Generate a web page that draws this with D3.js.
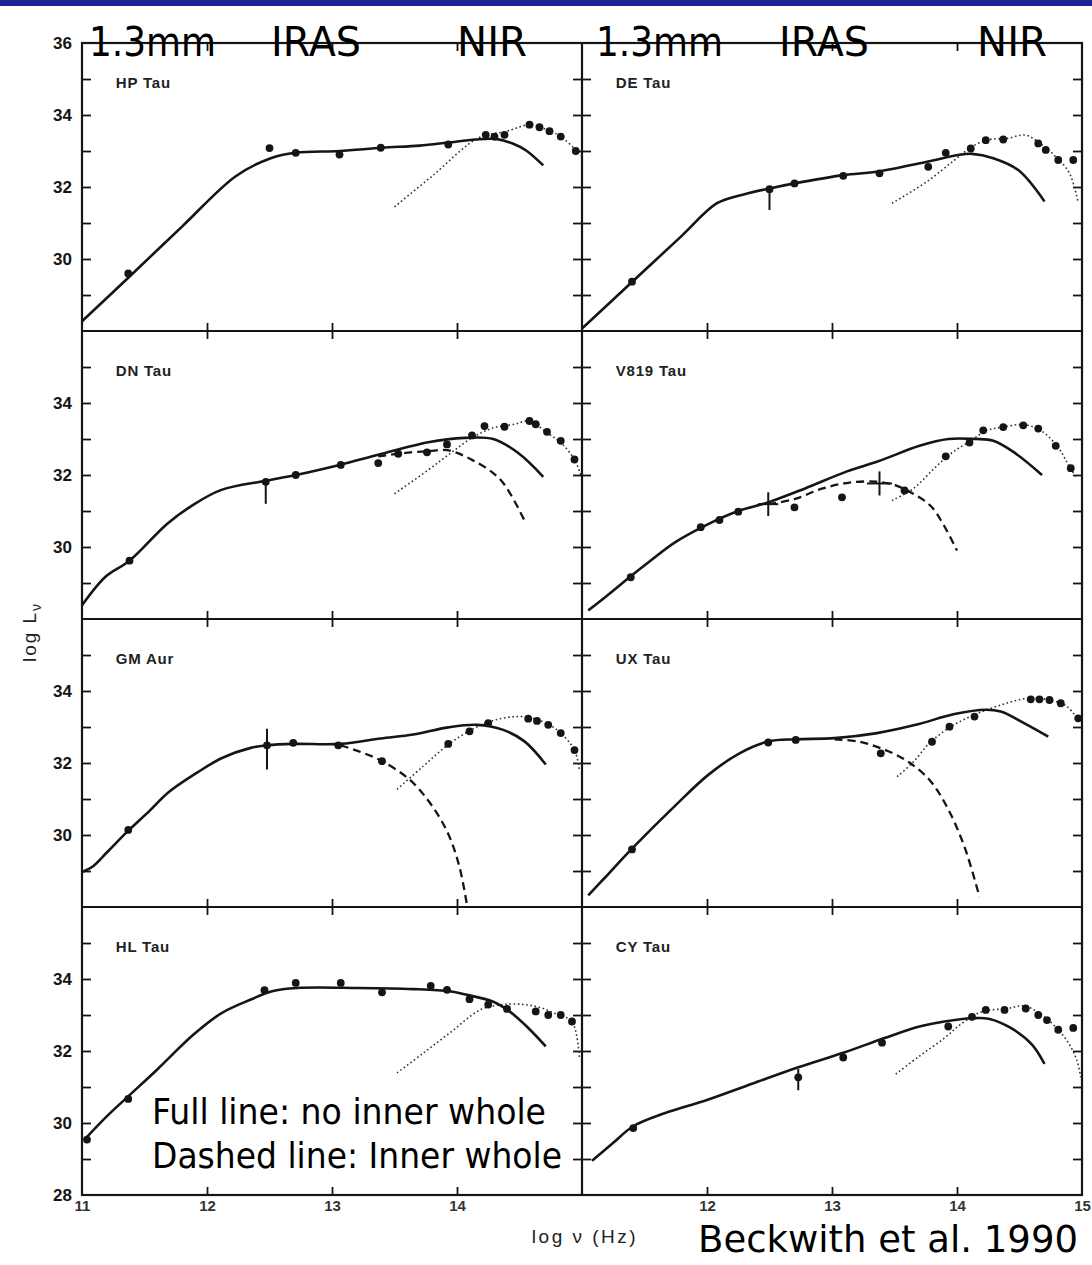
<!DOCTYPE html>
<html><head><meta charset="utf-8">
<script src="https://cdn.jsdelivr.net/npm/d3@7"></script>
<style>body{margin:0;background:#fff;} svg{display:block;}</style>
</head><body>
<script>
// ---------------- DATA (log nu [Hz], log L_nu) ----------------
const panelNames = ["HP Tau", "DE Tau", "DN Tau", "V819 Tau", "GM Aur", "UX Tau", "HL Tau", "CY Tau"];
const yTickLabelsTop = [36, 34, 32, 30];
const yTickLabelsMid = [34, 32, 30];
const yTickLabelsBottom = [34, 32, 30, 28];
const xTickLabelsLeft = [11, 12, 13, 14];
const xTickLabelsRight = [12, 13, 14, 15];
const bandLabels = ["1.3mm", "IRAS", "NIR"];

// HP Tau
const hpTauModel = [[11.0,28.27],[11.37,29.48],[11.8,30.9],[12.23,32.3],[12.51,32.8],[12.71,32.95],[13.06,33.0],[13.4,33.09],[13.7,33.15],[13.92,33.23],[14.15,33.32],[14.32,33.33],[14.45,33.2],[14.55,33.02],[14.69,32.6]];
const hpTauStar = [[13.5,31.45],[13.8,32.3],[14.17,33.36],[14.4,33.55],[14.58,33.73],[14.7,33.62],[14.83,33.4],[14.95,33.03],[15.0,32.85]];
const hpTauData = [[11.37,29.6],[12.5,33.08],[12.71,32.95],[13.06,32.9],[13.39,33.09],[13.93,33.18],[14.23,33.45],[14.3,33.4],[14.38,33.45],[14.58,33.73],[14.66,33.66],[14.74,33.55],[14.83,33.4],[14.95,33.0]];
const hpTauErr = [];
// DE Tau
const deTauModel = [[11.0,28.07],[11.4,29.36],[11.8,30.65],[12.08,31.55],[12.3,31.8],[12.5,31.96],[12.7,32.1],[13.09,32.33],[13.37,32.43],[13.76,32.7],[14.01,32.89],[14.12,32.92],[14.29,32.8],[14.49,32.47],[14.7,31.6]];
const deTauStar = [[13.48,31.55],[13.76,32.15],[13.98,32.75],[14.12,33.12],[14.26,33.32],[14.4,33.35],[14.55,33.44],[14.68,33.17],[14.79,32.84],[14.9,32.38],[14.97,31.55]];
const deTauData = [[11.4,29.37],[12.5,31.94],[12.7,32.1],[13.09,32.31],[13.38,32.38],[13.77,32.56],[13.91,32.95],[14.11,33.07],[14.23,33.3],[14.37,33.32],[14.65,33.21],[14.71,33.03],[14.81,32.75],[14.93,32.75]];
const deTauErr = [[12.5,31.36,31.94]];
// DN Tau
const dnTauModel = [[11.0,28.38],[11.19,29.18],[11.38,29.62],[11.68,30.64],[11.88,31.15],[12.11,31.58],[12.47,31.84],[12.71,32.0],[13.06,32.28],[13.37,32.56],[13.77,32.91],[14.06,33.03],[14.29,33.0],[14.49,32.61],[14.69,31.95]];
const dnTauHole = [[13.37,32.52],[13.63,32.63],[13.77,32.66],[13.92,32.69],[14.12,32.42],[14.35,31.86],[14.55,30.66]];
const dnTauStar = [[13.5,31.48],[13.77,32.14],[13.95,32.61],[14.12,33.03],[14.29,33.31],[14.46,33.41],[14.58,33.5],[14.72,33.17],[14.83,32.9],[14.94,32.43],[14.99,32.0]];
const dnTauData = [[11.38,29.62],[12.47,31.81],[12.71,32.0],[13.07,32.28],[13.37,32.33],[13.53,32.59],[13.76,32.63],[13.92,32.85],[14.12,33.1],[14.22,33.36],[14.38,33.34],[14.58,33.5],[14.63,33.41],[14.72,33.2],[14.83,32.95],[14.94,32.43]];
const dnTauErr = [[12.47,31.2,31.85]];
// V819 Tau
const v819TauModel = [[11.05,28.24],[11.19,28.62],[11.39,29.19],[11.53,29.57],[11.75,30.14],[12.03,30.67],[12.25,31.0],[12.49,31.24],[12.78,31.62],[13.12,32.1],[13.37,32.38],[13.7,32.81],[13.93,33.0],[14.15,33.0],[14.29,32.95],[14.46,32.62],[14.68,32.0]];
const v819TauHole = [[12.49,31.19],[12.7,31.33],[12.92,31.62],[13.14,31.79],[13.37,31.81],[13.51,31.71],[13.65,31.48],[13.79,31.14],[13.9,30.57],[14.0,29.9]];
const v819TauStar = [[13.48,31.29],[13.65,31.62],[13.82,32.19],[13.96,32.62],[14.11,32.95],[14.24,33.24],[14.37,33.33],[14.53,33.4],[14.67,33.24],[14.81,32.76],[14.89,32.29],[14.96,31.9]];
const v819TauData = [[11.39,29.16],[11.95,30.55],[12.1,30.75],[12.25,30.98],[12.7,31.1],[13.08,31.38],[13.58,31.57],[13.91,32.52],[14.1,32.9],[14.21,33.24],[14.37,33.33],[14.53,33.38],[14.65,33.29],[14.79,32.81],[14.91,32.19]];
const v819TauErr = [[12.49,30.86,31.52,12.41,12.57],[13.38,31.43,32.1,13.28,13.48]];
// GM Aur
const gmAurModel = [[11.0,28.97],[11.08,29.11],[11.2,29.52],[11.37,30.12],[11.54,30.67],[11.69,31.18],[11.92,31.73],[12.12,32.14],[12.35,32.42],[12.48,32.49],[12.69,32.53],[13.07,32.53],[13.39,32.68],[13.65,32.79],[13.93,32.99],[14.16,33.06],[14.37,32.92],[14.54,32.6],[14.71,31.96]];
const gmAurHole = [[13.07,32.49],[13.21,32.33],[13.39,32.07],[13.62,31.54],[13.79,30.86],[13.93,30.03],[14.02,29.11],[14.08,28.05]];
const gmAurStar = [[13.52,31.27],[13.73,31.91],[13.93,32.51],[14.14,32.97],[14.31,33.2],[14.48,33.29],[14.6,33.25],[14.74,33.06],[14.83,32.83],[14.94,32.36],[14.98,31.8]];
const gmAurData = [[11.37,30.14],[12.48,32.49],[12.69,32.56],[13.05,32.49],[13.4,32.05],[13.93,32.53],[14.1,32.88],[14.25,33.11],[14.57,33.23],[14.64,33.17],[14.73,33.06],[14.83,32.83],[14.94,32.36]];
const gmAurErr = [[12.48,31.82,32.95]];
// UX Tau
const uxTauModel = [[11.05,28.32],[11.19,28.84],[11.4,29.62],[11.75,30.83],[12.01,31.67],[12.26,32.27],[12.49,32.6],[12.71,32.66],[13.02,32.69],[13.36,32.83],[13.67,33.06],[13.98,33.36],[14.23,33.48],[14.35,33.43],[14.54,33.1],[14.73,32.73]];
const uxTauHole = [[13.02,32.66],[13.22,32.59],[13.39,32.41],[13.59,32.08],[13.78,31.53],[13.92,30.78],[14.06,29.67],[14.18,28.28]];
const uxTauStar = [[13.52,31.62],[13.64,31.99],[13.78,32.55],[13.95,33.01],[14.14,33.34],[14.35,33.61],[14.57,33.8],[14.74,33.75],[14.88,33.57],[14.99,33.1]];
const uxTauData = [[11.4,29.6],[12.49,32.57],[12.71,32.64],[13.39,32.27],[13.8,32.59],[13.94,33.01],[14.14,33.29],[14.59,33.77],[14.66,33.77],[14.74,33.75],[14.83,33.66],[14.97,33.24]];
const uxTauErr = [];
// HL Tau
const hlTauModel = [[11.02,29.54],[11.2,30.19],[11.37,30.74],[11.6,31.48],[11.89,32.45],[12.12,33.06],[12.35,33.43],[12.52,33.66],[12.72,33.75],[13.21,33.75],[13.65,33.72],[13.94,33.66],[14.08,33.56],[14.28,33.38],[14.42,33.1],[14.57,32.64],[14.71,32.13]];
const hlTauStar = [[13.52,31.39],[13.73,31.94],[13.96,32.55],[14.19,33.15],[14.37,33.29],[14.54,33.29],[14.68,33.19],[14.81,33.0],[14.92,32.82],[14.98,31.8]];
const hlTauData = [[11.04,29.54],[11.37,30.67],[12.46,33.69],[12.71,33.89],[13.07,33.89],[13.4,33.63],[13.79,33.81],[13.92,33.7],[14.1,33.44],[14.25,33.29],[14.4,33.17],[14.63,33.1],[14.73,33.0],[14.83,33.0],[14.92,32.82]];
const hlTauErr = [];
// CY Tau
const cyTauModel = [[11.08,28.95],[11.25,29.45],[11.41,29.91],[11.66,30.27],[12.0,30.64],[12.36,31.09],[12.73,31.55],[13.09,31.95],[13.42,32.36],[13.7,32.68],[13.9,32.82],[14.12,32.91],[14.26,32.89],[14.43,32.64],[14.6,32.18],[14.7,31.64]];
const cyTauStar = [[13.51,31.36],[13.7,31.86],[13.9,32.36],[14.04,32.77],[14.2,33.09],[14.4,33.18],[14.54,33.25],[14.68,33.0],[14.81,32.59],[14.9,32.18],[14.96,31.73],[14.99,31.27]];
const cyTauData = [[11.41,29.86],[12.73,31.27],[13.09,31.82],[13.4,32.23],[13.93,32.68],[14.12,32.95],[14.23,33.14],[14.38,33.14],[14.55,33.18],[14.65,33.0],[14.72,32.86],[14.81,32.59],[14.93,32.64]];
const cyTauErr = [[12.73,30.91,31.5]];

// table for drawing (built from the arrays above)
const panels = [
  {name:panelNames[0], col:0,row:0, model:hpTauModel, hole:null, star:hpTauStar, data:hpTauData, err:hpTauErr},
  {name:panelNames[1], col:1,row:0, model:deTauModel, hole:null, star:deTauStar, data:deTauData, err:deTauErr},
  {name:panelNames[2], col:0,row:1, model:dnTauModel, hole:dnTauHole, star:dnTauStar, data:dnTauData, err:dnTauErr},
  {name:panelNames[3], col:1,row:1, model:v819TauModel, hole:v819TauHole, star:v819TauStar, data:v819TauData, err:v819TauErr},
  {name:panelNames[4], col:0,row:2, model:gmAurModel, hole:gmAurHole, star:gmAurStar, data:gmAurData, err:gmAurErr},
  {name:panelNames[5], col:1,row:2, model:uxTauModel, hole:uxTauHole, star:uxTauStar, data:uxTauData, err:uxTauErr},
  {name:panelNames[6], col:0,row:3, model:hlTauModel, hole:null, star:hlTauStar, data:hlTauData, err:hlTauErr},
  {name:panelNames[7], col:1,row:3, model:cyTauModel, hole:null, star:cyTauStar, data:cyTauData, err:cyTauErr}
];

// ---------------- LAYOUT ----------------
const W = 1092, H = 1265;
const colX = [82, 582], panelW = 500, top0 = 43, panelH = 288;
const ink = "#151515";
const svg = d3.select("body").append("svg").attr("width", W).attr("height", H)
  .style("font-family", "'Liberation Sans', Arial, sans-serif");
svg.append("rect").attr("width", W).attr("height", H).attr("fill", "#fff");

const xS = colX.map(x0 => d3.scaleLinear().domain([11, 15]).range([x0, x0 + panelW]));
const yS = [0,1,2,3].map(i => d3.scaleLinear().domain([28, 36]).range([top0 + (i+1)*panelH, top0 + i*panelH]));
const bottom = top0 + 4*panelH;

// frame
const frame = svg.append("g").attr("stroke", ink).attr("stroke-width", 2.2).attr("fill", "none");
frame.append("rect").attr("x", colX[0]).attr("y", top0).attr("width", 2*panelW).attr("height", 4*panelH);
frame.append("line").attr("x1", colX[1]).attr("x2", colX[1]).attr("y1", top0).attr("y2", bottom);
for (let i = 1; i < 4; i++) frame.append("line").attr("x1", colX[0]).attr("x2", colX[0] + 2*panelW).attr("y1", yS[i](36)).attr("y2", yS[i](36));

const yMinor = [29,30,31,32,33,34,35];
function styleAxis(g){ g.select(".domain").remove(); g.selectAll(".tick line").attr("stroke", ink).attr("stroke-width", 1.8); }

// y ticks
for (let r = 0; r < 4; r++) {
  svg.append("g").attr("transform", `translate(${colX[0]},0)`).call(d3.axisRight(yS[r]).tickValues(yMinor).tickSize(9).tickFormat("")).call(styleAxis);
  svg.append("g").attr("transform", `translate(${colX[1]},0)`).call(d3.axisLeft(yS[r]).tickValues(yMinor).tickSize(9).tickFormat("")).call(styleAxis);
  svg.append("g").attr("transform", `translate(${colX[1]},0)`).call(d3.axisRight(yS[r]).tickValues(yMinor).tickSize(9).tickFormat("")).call(styleAxis);
  svg.append("g").attr("transform", `translate(${colX[1]+panelW},0)`).call(d3.axisLeft(yS[r]).tickValues(yMinor).tickSize(9).tickFormat("")).call(styleAxis);
  const labs = r === 0 ? yTickLabelsTop : (r === 3 ? yTickLabelsBottom : yTickLabelsMid);
  svg.append("g").attr("transform", `translate(${colX[0]},0)`)
    .call(d3.axisLeft(yS[r]).tickValues(labs).tickSize(0).tickPadding(10).tickFormat(d3.format("d")))
    .call(g => { g.select(".domain").remove(); g.selectAll("text").attr("font-size", 17).attr("font-weight", "bold").attr("fill", ink).attr("font-family", "'Liberation Sans', Arial, sans-serif"); });
}
// x ticks
for (let c = 0; c < 2; c++) {
  for (let r = 0; r <= 4; r++) {
    const yy = top0 + r*panelH;
    if (r > 0) svg.append("g").attr("transform", `translate(0,${yy})`).call(d3.axisTop(xS[c]).tickValues([12,13,14]).tickSize(8).tickFormat("")).call(styleAxis);
    if (r < 4) svg.append("g").attr("transform", `translate(0,${yy})`).call(d3.axisBottom(xS[c]).tickValues([12,13,14]).tickSize(8).tickFormat("")).call(styleAxis);
  }
  svg.append("g").attr("transform", `translate(0,${bottom})`)
    .call(d3.axisBottom(xS[c]).tickValues(c === 0 ? xTickLabelsLeft : xTickLabelsRight).tickSize(0).tickPadding(5).tickFormat(d3.format("d")))
    .call(g => { g.select(".domain").remove(); g.selectAll("text").attr("font-size", 15).attr("font-weight", "bold").attr("fill", "#333").attr("font-family", "'Liberation Sans', Arial, sans-serif"); });
}

// curves
panels.forEach(p => {
  const x = xS[p.col], y = yS[p.row];
  const line = d3.line().x(d => x(d[0])).y(d => y(d[1])).curve(d3.curveCatmullRom.alpha(0.5));
  const g = svg.append("g");
  g.append("path").datum(p.star).attr("d", line).attr("fill", "none").attr("stroke", "#333").attr("stroke-width", 1.6).attr("stroke-dasharray", "1.6,2.6");
  if (p.hole) g.append("path").datum(p.hole).attr("d", line).attr("fill", "none").attr("stroke", ink).attr("stroke-width", 2.3).attr("stroke-dasharray", "8,5");
  g.append("path").datum(p.model).attr("d", line).attr("fill", "none").attr("stroke", ink).attr("stroke-width", 2.6);
  g.selectAll("circle").data(p.data).join("circle").attr("cx", d => x(d[0])).attr("cy", d => y(d[1])).attr("r", 3.9).attr("fill", ink);
  p.err.forEach(e => {
    g.append("line").attr("x1", x(e[0])).attr("x2", x(e[0])).attr("y1", y(e[1])).attr("y2", y(e[2])).attr("stroke", ink).attr("stroke-width", 2);
    if (e.length > 3) g.append("line").attr("x1", x(e[3])).attr("x2", x(e[4])).attr("y1", y((e[1]+e[2])/2)).attr("y2", y((e[1]+e[2])/2)).attr("stroke", ink).attr("stroke-width", 2);
  });
  g.append("text").attr("x", x(11.27)).attr("y", y(34.9)).attr("dy", "0.35em").text(p.name)
    .attr("font-size", 15).attr("font-weight", "bold").attr("letter-spacing", 0.8).attr("fill", "#222");
});

// axis titles
svg.append("text").attr("transform", `translate(36,632) rotate(-90)`).attr("text-anchor", "middle")
  .attr("font-size", 19).attr("fill", "#222").attr("letter-spacing", 2)
  .call(t => { t.append("tspan").text("log L"); t.append("tspan").attr("font-size", 14).attr("dy", 5).text("ν"); });
svg.append("text").attr("x", 585).attr("y", 1243).attr("text-anchor", "middle").attr("font-size", 19).attr("fill", "#222").attr("letter-spacing", 2.5).text("log ν (Hz)");

// overlay annotations
const ov = "'DejaVu Sans', Verdana, sans-serif";
const bandX = [[89, 271, 457], [596, 779, 977]];
const bandW = [127, 90, 70];
bandX.forEach(xs => xs.forEach((xx, i) => {
  svg.append("text").attr("x", xx).attr("y", 56).attr("font-family", ov).attr("font-size", 40)
    .attr("textLength", bandW[i]).attr("lengthAdjust", "spacingAndGlyphs").attr("fill", "#000").text(bandLabels[i]);
}));
svg.append("text").attr("x", 152).attr("y", 1124).attr("font-family", ov).attr("font-size", 36)
  .attr("textLength", 394).attr("lengthAdjust", "spacingAndGlyphs").attr("fill", "#000").text("Full line: no inner whole");
svg.append("text").attr("x", 152).attr("y", 1168).attr("font-family", ov).attr("font-size", 36)
  .attr("textLength", 410).attr("lengthAdjust", "spacingAndGlyphs").attr("fill", "#000").text("Dashed line: Inner whole");
svg.append("text").attr("x", 698).attr("y", 1252).attr("font-family", ov).attr("font-size", 38)
  .attr("textLength", 380).attr("lengthAdjust", "spacingAndGlyphs").attr("fill", "#000").text("Beckwith et al. 1990");

// top bar
svg.append("rect").attr("x", 0).attr("y", 0).attr("width", W).attr("height", 6).attr("fill", "#1b2598");
</script>
</body></html>
